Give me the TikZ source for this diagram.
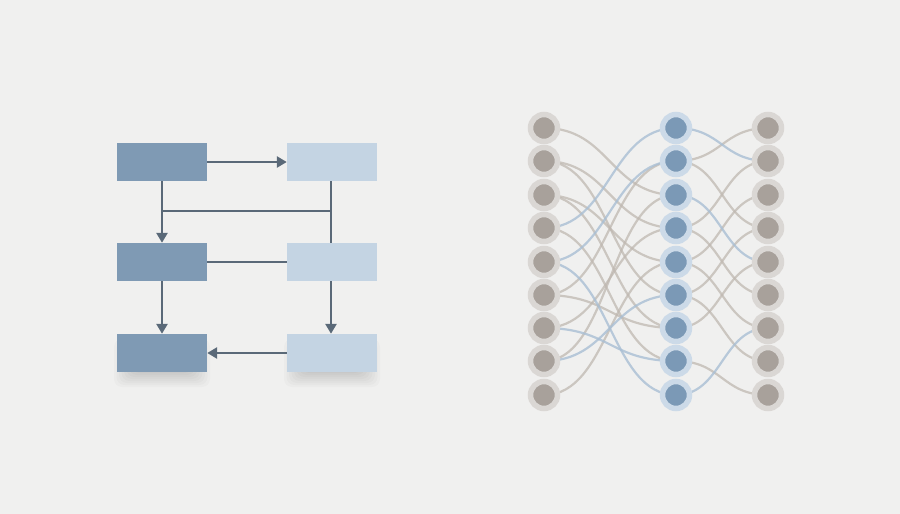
\documentclass[tikz,border=0pt]{standalone}
\usetikzlibrary{arrows.meta,calc}
\definecolor{bg}{HTML}{F0F0EF}
\definecolor{darkbox}{HTML}{7F9AB4}
\definecolor{lightbox}{HTML}{C4D4E3}
\definecolor{arrowc}{HTML}{5A6978}
\definecolor{grayin}{HTML}{A8A19B}
\definecolor{grayhalo}{HTML}{DAD7D4}
\definecolor{bluein}{HTML}{7B99B6}
\definecolor{bluehalo}{HTML}{CCDAE8}
\definecolor{grayline}{HTML}{BFB8B1}
\definecolor{blueline}{HTML}{A9BFD4}
\tikzset{
  boxdark/.style={fill=darkbox, draw=none, minimum width=90pt, minimum height=38pt, inner sep=0pt},
  boxlight/.style={fill=lightbox, draw=none, minimum width=90pt, minimum height=38pt, inner sep=0pt},
  conn/.style={draw=arrowc, line width=2.8pt},
  arr/.style={conn, -{Triangle[length=10pt,width=11pt]}},
  graynode/.style={circle, fill=grayin, draw=grayhalo, line width=5.5pt, minimum size=27pt, inner sep=0pt},
  bluenode/.style={circle, fill=bluein, draw=bluehalo, line width=5.5pt, minimum size=27pt, inner sep=0pt},
  gl/.style={draw=grayline, line width=2.2pt, opacity=0.75},
  bl/.style={draw=blueline, line width=2.2pt, opacity=0.8},
}
\newcommand{\softshadow}[1]{%
  \foreach \k in {0,...,7}{
    \fill[black, opacity=0.018, rounded corners=8pt]
      ($(#1)+(-48+2.5*\k,-14+\k)$) rectangle ($(#1)+(48-2.5*\k,34-2*\k)$);
  }%
}
\begin{document}
\begin{tikzpicture}[x=1pt,y=-1pt]
\fill[bg] (0,0) rectangle (900,514);
\useasboundingbox (0,0) rectangle (900,514);

% shadows of bottom boxes
\coordinate (sa) at (162,353);
\coordinate (sb) at (332,353);
\softshadow{sa}
\softshadow{sb}

% left flow diagram
\node[boxdark] (a1) at (162,162) {};
\node[boxlight] (b1) at (332,162) {};
\node[boxdark] (a2) at (162,262) {};
\node[boxlight] (b2) at (332,262) {};
\node[boxdark] (a3) at (162,353) {};
\node[boxlight] (b3) at (332,353) {};
\coordinate (j1) at (162,211);
\coordinate (j2) at (331,211);

\draw[arr] (a1.east) -- (b1.west);
\draw[arr] (a1.south) -- (a2.north);
\draw[conn] (j1) -- (j2);
\draw[conn] (b1.south -| j2) -- (b2.north -| j2);
\draw[conn] (a2.east) -- (b2.west);
\draw[arr] (a2.south) -- (a3.north);
\draw[arr] (b2.south -| j2) -- (b3.north -| j2);
\draw[arr] (b3.west) -- (a3.east);

% network nodes positions
\foreach \i/\y in {1/128,2/161,3/195,4/228,5/262,6/295,7/328,8/361,9/395}{
  \coordinate (L\i) at (544,\y);
  \coordinate (M\i) at (676,\y);
  \coordinate (R\i) at (768,\y);
}

% left-middle connections
\foreach \a/\b in {1/3,2/4,2/6,3/5,3/7,4/8,6/2,7/4,8/3,9/5,6/7}{
  \draw[gl] (L\a) .. controls ($(L\a)+(66,0)$) and ($(M\b)+(-66,0)$) .. (M\b);
}
\foreach \a/\b in {4/1,5/2,5/9,7/8,8/6}{
  \draw[bl] (L\a) .. controls ($(L\a)+(66,0)$) and ($(M\b)+(-66,0)$) .. (M\b);
}
% middle-right connections
\foreach \a/\b in {2/1,2/4,4/2,4/6,5/3,5/7,6/4,6/8,7/5,8/9}{
  \draw[gl] (M\a) .. controls ($(M\a)+(46,0)$) and ($(R\b)+(-46,0)$) .. (R\b);
}
\foreach \a/\b in {1/2,3/5,9/7}{
  \draw[bl] (M\a) .. controls ($(M\a)+(46,0)$) and ($(R\b)+(-46,0)$) .. (R\b);
}

\foreach \i in {1,...,9}{
  \node[graynode] (l\i) at (L\i) {};
  \node[bluenode] (m\i) at (M\i) {};
  \node[graynode] (r\i) at (R\i) {};
}
\end{tikzpicture}
\end{document}
